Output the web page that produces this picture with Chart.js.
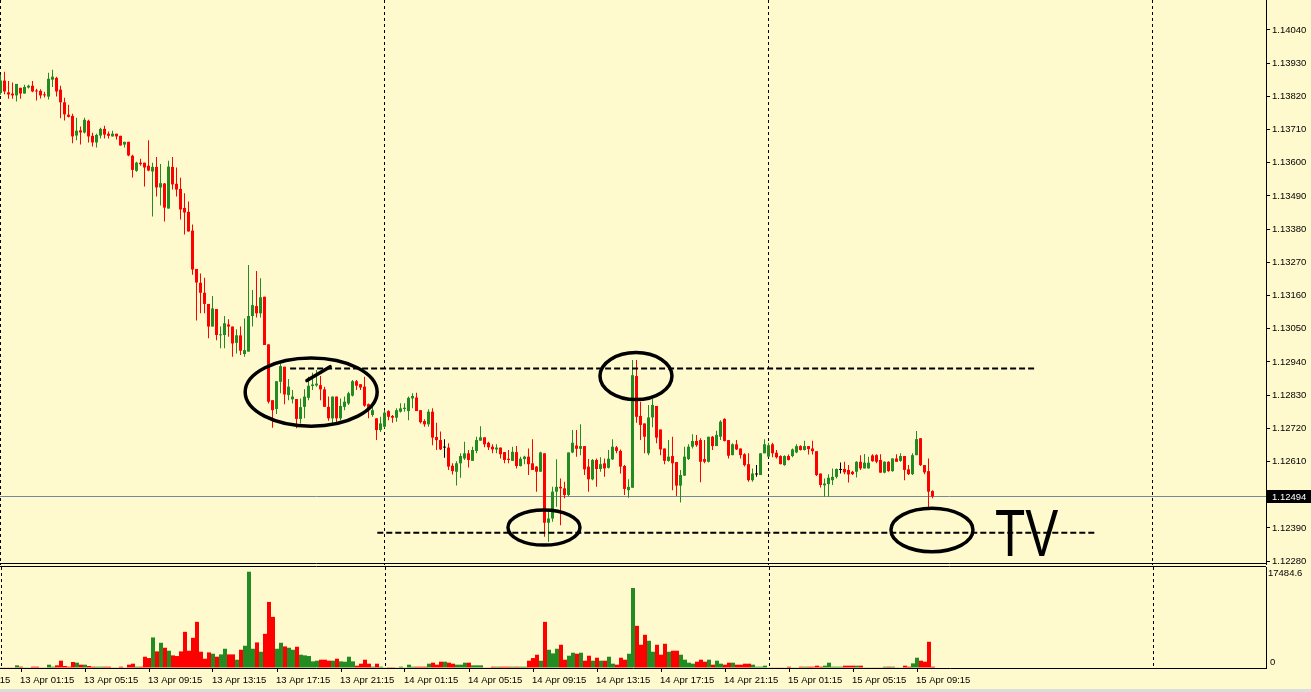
<!DOCTYPE html>
<html>
<head>
<meta charset="utf-8">
<script src="https://cdn.jsdelivr.net/npm/chart.js@4.4.1/dist/chart.umd.min.js"></script>
<style>
  html, body { margin: 0; padding: 0; background: #dcdcdc; }
  #quadro { position: relative; width: 1311px; height: 692px; overflow: hidden; }
  #quadro canvas { position: absolute; left: 0; }
  #precos { top: 0; }
  #volumes { top: 565px; }
</style>
</head>
<body>
<div id="quadro">
  <canvas id="precos" width="1311" height="565"></canvas>
  <canvas id="volumes" width="1311" height="124"></canvas>
</div>
<script>
// M15 bars, first bar at 13 Apr 00:00
const firstBar = '13 Apr 00:00';
const axisLabels = ['12 Apr 21:15', '13 Apr 01:15', '13 Apr 05:15', '13 Apr 09:15', '13 Apr 13:15', '13 Apr 17:15',
  '13 Apr 21:15', '14 Apr 01:15', '14 Apr 05:15', '14 Apr 09:15', '14 Apr 13:15', '14 Apr 17:15', '14 Apr 21:15',
  '15 Apr 01:15', '15 Apr 05:15', '15 Apr 09:15'];
const dayStarts = ['13 Apr 00:00', '14 Apr 00:00', '15 Apr 00:00', '16 Apr 00:00'];
const priceTicks = [1.12280, 1.12390, 1.12610, 1.12720, 1.12830, 1.12940, 1.13050, 1.13160, 1.13270,
  1.13380, 1.13490, 1.13600, 1.13710, 1.13820, 1.13930, 1.14040];

const opens = [
  1.13831,1.13872,1.13833,1.13829,1.13823,1.13848,1.13829,1.13849,1.13855,1.13838,
  1.13838,1.13826,1.13819,1.13875,1.13881,1.13842,1.13800,1.13759,1.13755,1.13690,
  1.13707,1.13700,1.13739,1.13689,1.13667,1.13690,1.13712,1.13696,1.13687,1.13696,
  1.13689,1.13660,1.13669,1.13623,1.13573,1.13600,1.13600,1.13590,1.13571,1.13586,
  1.13518,1.13531,1.13448,1.13586,1.13530,1.13513,1.13450,1.13437,1.13375,1.13248,
  1.13202,1.13169,1.13132,1.13057,1.13115,1.13028,1.13029,1.13064,1.13057,1.13003,
  1.13028,1.12966,1.12974,1.13092,1.13125,1.13101,1.13156,1.12998,1.12813,1.12784,
  1.12874,1.12924,1.12830,1.12816,1.12817,1.12751,1.12791,1.12821,1.12860,1.12862,
  1.12863,1.12849,1.12791,1.12753,1.12825,1.12753,1.12791,1.12802,1.12828,1.12876,
  1.12866,1.12858,1.12800,1.12764,1.12753,1.12714,1.12725,1.12777,1.12761,1.12755,
  1.12775,1.12784,1.12777,1.12819,1.12822,1.12780,1.12744,1.12733,1.12775,1.12691,
  1.12681,1.12656,1.12656,1.12596,1.12576,1.12604,1.12620,1.12637,1.12612,1.12645,
  1.12679,1.12690,1.12672,1.12659,1.12650,1.12656,1.12641,1.12619,1.12612,1.12641,
  1.12595,1.12618,1.12626,1.12604,1.12593,1.12576,1.12637,1.12407,1.12421,1.12510,
  1.12526,1.12521,1.12499,1.12640,1.12663,1.12652,1.12661,1.12593,1.12551,1.12615,
  1.12585,1.12604,1.12589,1.12617,1.12657,1.12645,1.12595,1.12515,1.12523,1.12893,
  1.12761,1.12736,1.12637,1.12756,1.12794,1.12716,1.12653,1.12612,1.12628,1.12608,
  1.12530,1.12563,1.12618,1.12659,1.12678,1.12681,1.12618,1.12609,1.12692,1.12661,
  1.12692,1.12751,1.12681,1.12631,1.12667,1.12653,1.12634,1.12601,1.12548,1.12567,
  1.12565,1.12637,1.12626,1.12667,1.12639,1.12628,1.12598,1.12628,1.12628,1.12640,
  1.12661,1.12648,1.12661,1.12653,1.12644,1.12570,1.12531,1.12535,1.12548,1.12559,
  1.12582,1.12585,1.12582,1.12576,1.12576,1.12609,1.12587,1.12587,1.12630,1.12631,
  1.12615,1.12573,1.12609,1.12578,1.12620,1.12612,1.12628,1.12584,1.12568,1.12631,
  1.12687,1.12598,1.12578,1.12512
];
const highs = [
  1.13891,1.13901,1.13871,1.13866,1.13861,1.13848,1.13858,1.13858,1.13871,1.13845,
  1.13843,1.13835,1.13898,1.13908,1.13885,1.13855,1.13815,1.13792,1.13762,1.13749,
  1.13720,1.13749,1.13742,1.13699,1.13696,1.13716,1.13722,1.13703,1.13706,1.13696,
  1.13689,1.13669,1.13669,1.13626,1.13603,1.13613,1.13600,1.13674,1.13600,1.13619,
  1.13596,1.13533,1.13606,1.13619,1.13584,1.13550,1.13499,1.13471,1.13395,1.13248,
  1.13233,1.13219,1.13132,1.13158,1.13115,1.13057,1.13092,1.13081,1.13057,1.13048,
  1.13057,1.13084,1.13261,1.13178,1.13241,1.13217,1.13156,1.12998,1.12813,1.12876,
  1.12933,1.12924,1.12883,1.12847,1.12817,1.12819,1.12849,1.12891,1.12904,1.12913,
  1.12893,1.12858,1.12825,1.12825,1.12825,1.12819,1.12825,1.12841,1.12880,1.12880,
  1.12866,1.12891,1.12802,1.12797,1.12753,1.12758,1.12780,1.12780,1.12764,1.12786,
  1.12803,1.12803,1.12825,1.12836,1.12838,1.12780,1.12750,1.12783,1.12786,1.12738,
  1.12709,1.12684,1.12670,1.12604,1.12611,1.12637,1.12675,1.12648,1.12659,1.12692,
  1.12727,1.12690,1.12675,1.12667,1.12667,1.12656,1.12641,1.12648,1.12659,1.12661,
  1.12626,1.12629,1.12653,1.12684,1.12595,1.12642,1.12637,1.12449,1.12526,1.12617,
  1.12554,1.12543,1.12640,1.12714,1.12714,1.12733,1.12661,1.12618,1.12618,1.12620,
  1.12624,1.12620,1.12648,1.12684,1.12661,1.12650,1.12598,1.12551,1.12946,1.12946,
  1.12808,1.12736,1.12797,1.12819,1.12794,1.12716,1.12653,1.12681,1.12692,1.12608,
  1.12582,1.12659,1.12667,1.12700,1.12698,1.12687,1.12681,1.12692,1.12694,1.12712,
  1.12747,1.12753,1.12681,1.12670,1.12681,1.12653,1.12637,1.12637,1.12587,1.12598,
  1.12637,1.12684,1.12672,1.12672,1.12648,1.12631,1.12631,1.12633,1.12653,1.12667,
  1.12664,1.12679,1.12661,1.12679,1.12644,1.12570,1.12554,1.12568,1.12587,1.12587,
  1.12607,1.12609,1.12598,1.12579,1.12611,1.12631,1.12635,1.12626,1.12634,1.12634,
  1.12634,1.12611,1.12611,1.12620,1.12634,1.12637,1.12628,1.12598,1.12637,1.12711,
  1.12687,1.12598,1.12620,1.12515
];
const lows = [
  1.13825,1.13827,1.13812,1.13812,1.13803,1.13812,1.13829,1.13846,1.13833,1.13806,
  1.13813,1.13816,1.13809,1.13851,1.13819,1.13747,1.13740,1.13750,1.13664,1.13674,
  1.13660,1.13697,1.13667,1.13654,1.13650,1.13680,1.13680,1.13680,1.13687,1.13677,
  1.13657,1.13650,1.13621,1.13551,1.13570,1.13590,1.13521,1.13572,1.13422,1.13488,
  1.13458,1.13405,1.13448,1.13511,1.13488,1.13412,1.13362,1.13372,1.13229,1.13077,
  1.13101,1.13101,1.13018,1.13057,1.13012,1.12985,1.12985,1.13023,1.12957,1.12968,
  1.12963,1.12957,1.12974,1.13057,1.13087,1.13087,1.12996,1.12802,1.12722,1.12767,
  1.12836,1.12800,1.12813,1.12802,1.12720,1.12736,1.12753,1.12813,1.12847,1.12858,
  1.12813,1.12791,1.12745,1.12734,1.12734,1.12747,1.12780,1.12797,1.12825,1.12847,
  1.12847,1.12791,1.12753,1.12758,1.12681,1.12708,1.12720,1.12747,1.12738,1.12742,
  1.12772,1.12775,1.12747,1.12786,1.12777,1.12736,1.12725,1.12725,1.12664,1.12648,
  1.12648,1.12622,1.12582,1.12567,1.12530,1.12556,1.12615,1.12590,1.12612,1.12637,
  1.12679,1.12657,1.12648,1.12637,1.12637,1.12620,1.12604,1.12604,1.12612,1.12587,
  1.12593,1.12601,1.12565,1.12582,1.12510,1.12576,1.12361,1.12344,1.12410,1.12460,
  1.12399,1.12488,1.12495,1.12637,1.12626,1.12631,1.12565,1.12510,1.12548,1.12526,
  1.12576,1.12559,1.12587,1.12615,1.12637,1.12570,1.12499,1.12490,1.12523,1.12738,
  1.12681,1.12637,1.12631,1.12723,1.12670,1.12631,1.12601,1.12609,1.12515,1.12496,
  1.12474,1.12563,1.12615,1.12653,1.12659,1.12541,1.12604,1.12607,1.12648,1.12661,
  1.12681,1.12676,1.12620,1.12631,1.12648,1.12620,1.12593,1.12543,1.12543,1.12559,
  1.12565,1.12637,1.12624,1.12624,1.12620,1.12601,1.12596,1.12613,1.12624,1.12637,
  1.12646,1.12646,1.12633,1.12633,1.12562,1.12524,1.12493,1.12493,1.12532,1.12554,
  1.12570,1.12568,1.12540,1.12565,1.12557,1.12582,1.12587,1.12587,1.12609,1.12604,
  1.12573,1.12571,1.12576,1.12576,1.12609,1.12609,1.12548,1.12565,1.12565,1.12631,
  1.12595,1.12568,1.12449,1.12488
];
const closes = [
  1.13872,1.13836,1.13826,1.13823,1.13861,1.13829,1.13851,1.13855,1.13836,1.13836,
  1.13823,1.13823,1.13878,1.13885,1.13836,1.13800,1.13760,1.13752,1.13687,1.13706,
  1.13700,1.13742,1.13687,1.13667,1.13692,1.13712,1.13693,1.13689,1.13696,1.13687,
  1.13657,1.13669,1.13624,1.13576,1.13600,1.13595,1.13584,1.13574,1.13586,1.13518,
  1.13532,1.13451,1.13587,1.13528,1.13511,1.13445,1.13435,1.13372,1.13246,1.13203,
  1.13169,1.13132,1.13057,1.13117,1.13029,1.13030,1.13068,1.13057,1.13001,1.13028,
  1.12977,1.12979,1.13092,1.13128,1.13101,1.13154,1.12996,1.12808,1.12780,1.12876,
  1.12926,1.12832,1.12858,1.12825,1.12751,1.12790,1.12825,1.12861,1.12865,1.12868,
  1.12849,1.12791,1.12753,1.12825,1.12753,1.12794,1.12808,1.12836,1.12876,1.12861,
  1.12855,1.12795,1.12780,1.12780,1.12714,1.12736,1.12772,1.12758,1.12755,1.12780,
  1.12786,1.12788,1.12821,1.12827,1.12777,1.12740,1.12733,1.12775,1.12689,1.12681,
  1.12650,1.12656,1.12593,1.12578,1.12604,1.12628,1.12637,1.12615,1.12648,1.12681,
  1.12690,1.12667,1.12657,1.12650,1.12656,1.12634,1.12615,1.12615,1.12642,1.12595,
  1.12619,1.12626,1.12601,1.12582,1.12576,1.12640,1.12407,1.12421,1.12510,1.12526,
  1.12521,1.12499,1.12640,1.12672,1.12652,1.12661,1.12584,1.12551,1.12615,1.12585,
  1.12601,1.12587,1.12619,1.12659,1.12645,1.12593,1.12519,1.12526,1.12896,1.12758,
  1.12731,1.12692,1.12756,1.12797,1.12689,1.12650,1.12612,1.12626,1.12604,1.12530,
  1.12565,1.12626,1.12659,1.12678,1.12664,1.12609,1.12609,1.12692,1.12661,1.12698,
  1.12742,1.12678,1.12629,1.12667,1.12650,1.12631,1.12598,1.12548,1.12570,1.12567,
  1.12637,1.12667,1.12664,1.12637,1.12624,1.12601,1.12628,1.12615,1.12650,1.12661,
  1.12648,1.12661,1.12651,1.12644,1.12565,1.12532,1.12537,1.12556,1.12559,1.12585,
  1.12582,1.12574,1.12567,1.12568,1.12609,1.12587,1.12606,1.12606,1.12611,1.12609,
  1.12573,1.12609,1.12578,1.12620,1.12609,1.12628,1.12582,1.12568,1.12631,1.12684,
  1.12598,1.12574,1.12510,1.12494
];
const volumes = [
  60,60,60,60,482,241,121,121,241,241,
  121,121,603,241,482,1327,362,241,1085,965,
  603,603,362,241,241,241,241,241,60,60,
  241,60,603,784,241,241,2050,1809,5548,3015,
  4583,3678,3136,2291,2171,3015,6573,3136,5487,8382,
  2955,1688,2834,2593,2050,2472,3497,2472,2472,1508,
  3317,4040,17484.6,3497,4643,2955,6211,12000,9286,3497,
  4583,3920,3678,3317,3859,2412,2291,2171,1206,1327,
  1508,1508,1327,1327,1688,1206,1146,2050,1206,422,
  784,1508,784,241,784,241,60,30,30,60,
  241,60,603,241,241,241,241,784,965,603,
  1146,1146,965,784,603,603,965,965,482,482,
  482,121,121,241,241,241,241,241,241,241,
  241,241,1327,1809,2412,1327,8382,3317,2653,3497,
  4221,1508,2231,2774,2593,2774,1327,2231,1327,1869,
  1327,1327,2050,784,603,1869,1508,2593,14532,7658,
  4221,6030,4945,2955,4221,2412,4402,2955,3136,3136,
  2412,1508,965,784,1146,1508,1146,1508,603,1327,
  784,603,965,965,603,603,784,784,603,241,
  241,422,60,60,60,121,121,241,121,121,
  241,241,241,241,422,241,422,965,241,241,
  241,422,422,422,422,422,121,121,121,121,
  121,241,241,241,121,121,422,241,844,1869,
  1327,1146,4764,241
];

// hand drawn marks on the chart
const levelLines = [
  { from: '13 Apr 18:06', to: '15 Apr 16:39', price: 1.12918 },
  { from: '13 Apr 23:33', to: '15 Apr 20:24', price: 1.12374 }
];
const rings = [
  { at: '13 Apr 19:25', price: 1.12840, bars: 16.5, span: 0.00113 },
  { at: '14 Apr 15:43', price: 1.12893, bars: 9, span: 0.00078 },
  { at: '14 Apr 09:58', price: 1.12391, bars: 9, span: 0.00058 },
  { at: '15 Apr 10:13', price: 1.12383, bars: 10.25, span: 0.00072 }
];
const strokes = [
  { from: ['13 Apr 19:09', 1.12878], to: ['13 Apr 20:36', 1.12924] }
];
const note = { text: 'TV', at: '15 Apr 14:09', price: 1.12297 };

const fundoCor = '#fffacd';
const verde = '#228b22';
const vermelho = '#ff0000';
const fonte = '"Liberation Sans", Arial, sans-serif';

function barIndex(label) {
  const [d, , t] = label.split(' ');
  const [h, m] = t.split(':').map(Number);
  const d0 = Number(firstBar.split(' ')[0]);
  return (Number(d) - d0) * 96 + (h * 60 + m) / 15;
}

const idx = opens.map((_, i) => i);
const cores = idx.map(i => closes[i] > opens[i] ? verde : closes[i] < opens[i] ? vermelho : '#000000');
const coresVol = idx.map(i => closes[i] < opens[i] ? vermelho : verde);
const ultimo = closes[closes.length - 1];
const volMax = Math.max(...volumes);
const barsOnScreen = 1266 / 4;

// no extra room for labels hanging over the plot edges
const semFolga = s => { s.paddingLeft = 0; s.paddingRight = 0; s.paddingTop = 0; s.paddingBottom = 0; };

const fundo = {
  id: 'fundo',
  beforeDraw(chart) {
    const ctx = chart.ctx;
    ctx.save();
    ctx.fillStyle = fundoCor;
    ctx.fillRect(0, 0, chart.width, chart.height);
    ctx.restore();
  }
};

const separadores = {
  id: 'separadores',
  beforeDatasetsDraw(chart) {
    const { ctx, chartArea: a, scales: { x } } = chart;
    ctx.save();
    ctx.strokeStyle = '#000';
    ctx.lineWidth = 1;
    ctx.setLineDash([3, 3]);
    dayStarts.forEach(d => {
      const px = Math.floor(x.getPixelForValue(barIndex(d))) + 0.5;
      ctx.beginPath();
      ctx.moveTo(px, a.top);
      ctx.lineTo(px, a.bottom);
      ctx.stroke();
    });
    ctx.restore();
  }
};

const linhaBid = {
  id: 'linhaBid',
  beforeDatasetsDraw(chart) {
    const { ctx, chartArea: a, scales: { y } } = chart;
    const py = Math.round(y.getPixelForValue(ultimo)) + 0.5;
    ctx.save();
    ctx.strokeStyle = '#778899';
    ctx.lineWidth = 1;
    ctx.beginPath();
    ctx.moveTo(a.left, py);
    ctx.lineTo(a.right, py);
    ctx.stroke();
    ctx.restore();
  },
  afterDraw(chart) {
    const { ctx, chartArea: a, scales: { y } } = chart;
    const py = Math.round(y.getPixelForValue(ultimo));
    ctx.save();
    ctx.fillStyle = '#000';
    ctx.fillRect(a.right + 1, py - 6, chart.width - a.right - 1, 13);
    ctx.fillStyle = '#fff';
    ctx.font = '9.5px ' + fonte;
    ctx.textBaseline = 'middle';
    ctx.fillText(ultimo.toFixed(5), a.right + 6, py + 1);
    // pane separator
    ctx.strokeStyle = '#000';
    ctx.beginPath();
    ctx.moveTo(0, chart.height - 1.5);
    ctx.lineTo(a.right, chart.height - 1.5);
    ctx.stroke();
    ctx.restore();
  }
};

const desenhos = {
  id: 'desenhos',
  afterDatasetsDraw(chart) {
    const { ctx, scales: { x, y } } = chart;
    ctx.save();
    ctx.strokeStyle = '#000';
    ctx.lineWidth = 3.5;
    ctx.lineCap = 'round';
    rings.forEach(r => {
      const i = barIndex(r.at);
      const cx = x.getPixelForValue(i);
      const cy = y.getPixelForValue(r.price);
      const rx = x.getPixelForValue(i + r.bars) - cx;
      const ry = y.getPixelForValue(r.price - r.span) - cy;
      ctx.beginPath();
      ctx.ellipse(cx, cy, rx, ry, 0, 0, Math.PI * 2);
      ctx.stroke();
    });
    strokes.forEach(s => {
      ctx.beginPath();
      ctx.moveTo(x.getPixelForValue(barIndex(s.from[0])), y.getPixelForValue(s.from[1]));
      ctx.lineTo(x.getPixelForValue(barIndex(s.to[0])), y.getPixelForValue(s.to[1]));
      ctx.stroke();
    });
    ctx.translate(x.getPixelForValue(barIndex(note.at)), y.getPixelForValue(note.price));
    ctx.scale(0.75, 1);
    ctx.fillStyle = '#000';
    ctx.font = '66px ' + fonte;
    ctx.fillText(note.text, 0, 0);
    ctx.restore();
  }
};

const escalaVol = {
  id: 'escalaVol',
  afterDraw(chart) {
    const { ctx, chartArea: a, scales: { y } } = chart;
    ctx.save();
    ctx.fillStyle = '#000';
    ctx.font = '9.5px ' + fonte;
    ctx.textBaseline = 'middle';
    ctx.fillText(volMax.toFixed(1), a.right + 2, y.getPixelForValue(volMax) + 2);
    ctx.fillText('0', a.right + 4, y.getPixelForValue(0) - 6);
    ctx.strokeStyle = '#000';
    ctx.beginPath();
    ctx.moveTo(0, a.top - 0.5);
    ctx.lineTo(a.right, a.top - 0.5);
    ctx.stroke();
    ctx.restore();
  }
};

Chart.defaults.font.family = fonte;

new Chart(document.getElementById('precos'), {
  type: 'bar',
  data: {
    datasets: [
      ...levelLines.map(l => ({
        type: 'line',
        data: [{ x: barIndex(l.from), y: l.price }, { x: barIndex(l.to), y: l.price }],
        borderColor: '#000',
        borderWidth: 2,
        borderDash: [6, 3],
        pointRadius: 0,
        fill: false
      })),
      {
        data: idx.map(i => ({ x: i, y: [opens[i], closes[i]] })),
        backgroundColor: cores,
        barThickness: 3,
        minBarLength: 1,
        grouped: false,
        inflateAmount: 0
      },
      {
        data: idx.map(i => ({ x: i, y: [lows[i], highs[i]] })),
        backgroundColor: cores,
        barThickness: 1,
        grouped: false,
        inflateAmount: 0
      }
    ]
  },
  options: {
    responsive: false,
    animation: false,
    devicePixelRatio: 1,
    layout: { padding: 0 },
    plugins: { legend: { display: false }, tooltip: { enabled: false } },
    scales: {
      x: { type: 'linear', display: false, offset: false, bounds: 'data', min: -0.125, max: barsOnScreen - 0.125 },
      y: {
        position: 'right',
        bounds: 'data',
        min: 1.12267,
        max: 1.14139,
        afterBuildTicks: s => { s.ticks = priceTicks.map(v => ({ value: v })); },
        afterFit: s => { s.width = 45; semFolga(s); },
        ticks: { color: '#000', font: { size: 9.5 }, padding: 2, callback: v => v.toFixed(5) },
        grid: { drawOnChartArea: false, color: '#000', tickLength: 4 },
        border: { color: '#000' }
      }
    }
  },
  plugins: [fundo, separadores, linhaBid, desenhos]
});

new Chart(document.getElementById('volumes'), {
  type: 'bar',
  data: {
    datasets: [{
      data: idx.map(i => ({ x: i, y: volumes[i] })),
      backgroundColor: coresVol,
      barThickness: 4,
      grouped: false,
      inflateAmount: 0
    }]
  },
  options: {
    responsive: false,
    animation: false,
    devicePixelRatio: 1,
    layout: { padding: { top: 2 } },
    plugins: { legend: { display: false }, tooltip: { enabled: false } },
    scales: {
      x: {
        type: 'linear',
        offset: false,
        bounds: 'data',
        min: -0.25,
        max: barsOnScreen - 0.25,
        afterBuildTicks: s => { s.ticks = axisLabels.map(l => ({ value: barIndex(l) })); },
        afterFit: s => { s.height = 21; semFolga(s); },
        ticks: {
          autoSkip: false, maxRotation: 0, align: 'start', padding: 3, labelOffset: -1,
          color: '#000', font: { size: 9.5 },
          callback: (v, k) => axisLabels[k]
        },
        grid: { drawOnChartArea: false, color: '#000', tickLength: 4, offset: false },
        border: { color: '#000' }
      },
      y: {
        position: 'right',
        bounds: 'data',
        min: 0,
        max: 18340,
        afterFit: s => { s.width = 45; semFolga(s); },
        ticks: { display: false },
        grid: { drawOnChartArea: false, drawTicks: false },
        border: { color: '#000' }
      }
    }
  },
  plugins: [fundo, separadores, escalaVol]
});
</script>
</body>
</html>
